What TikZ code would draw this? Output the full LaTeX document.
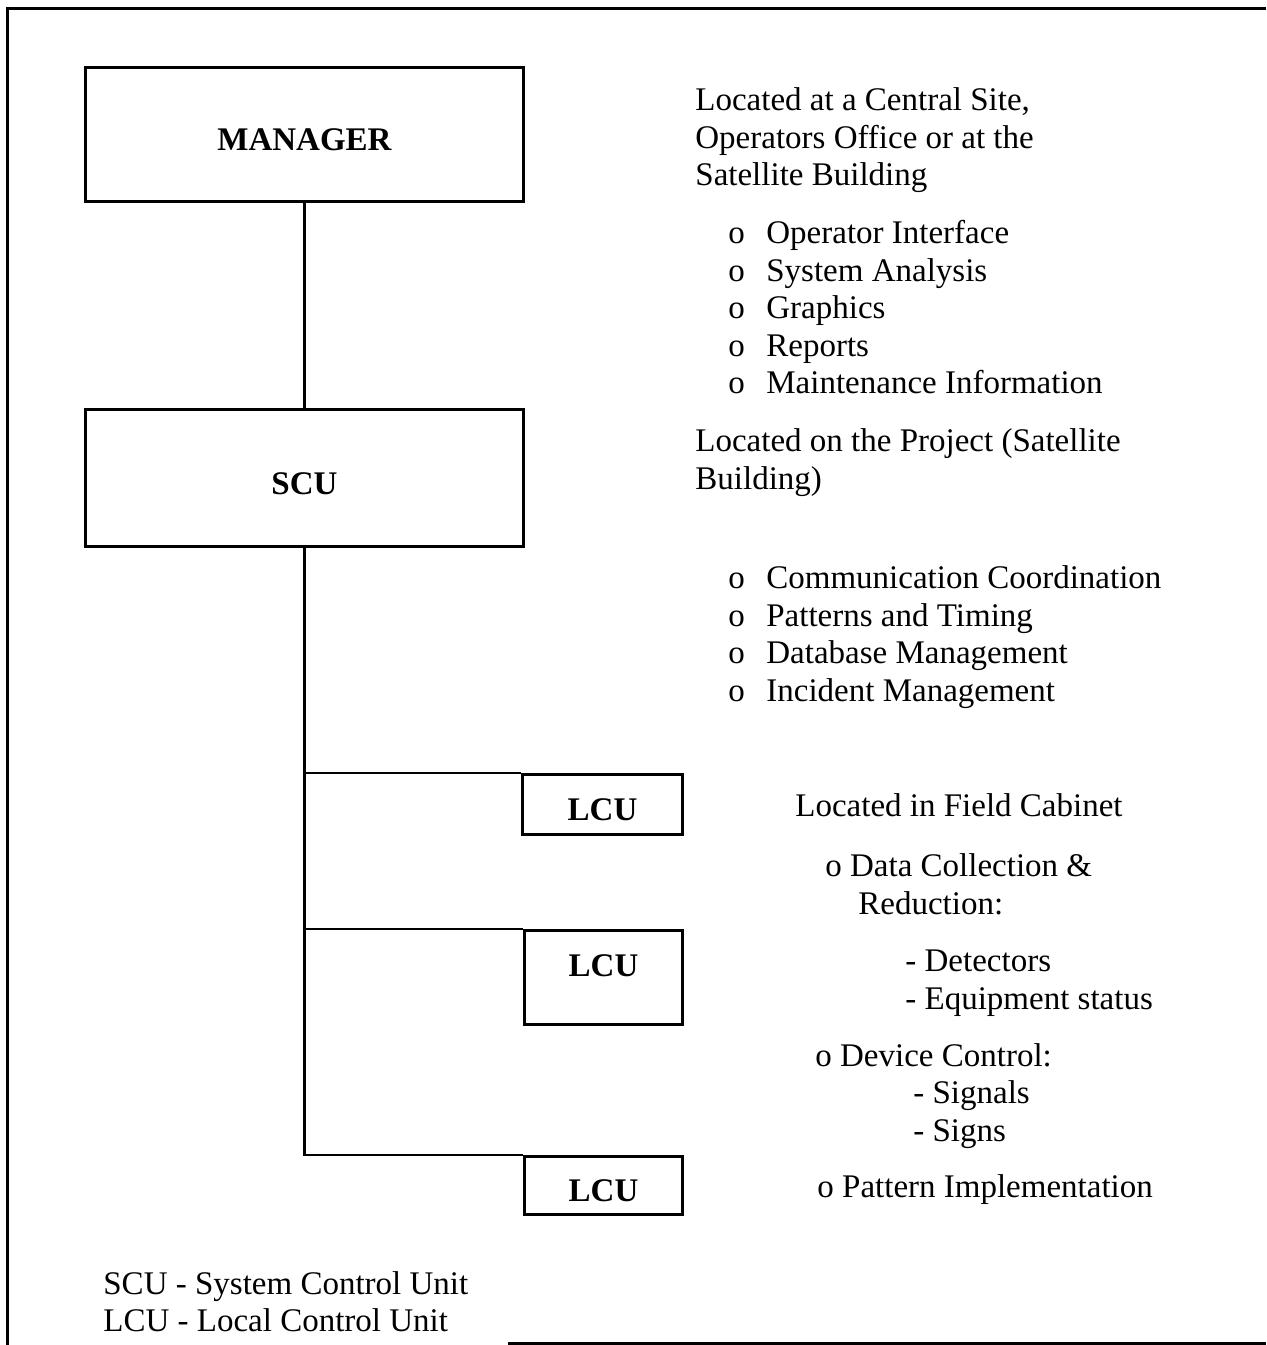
\documentclass[tikz,border=0pt]{standalone}
\usepackage{fontspec}
\setmainfont{Liberation Serif}
\usepackage{tikz}
\newcommand{\diagfont}{\fontsize{16.5pt}{19pt}\selectfont}
\newcommand{\bul}[1]{\makebox[19pt][l]{o}#1}
\tikzstyle{unitbox} = [draw, line width=1.5pt, rectangle, inner sep=0pt, anchor=north west, font=\diagfont\bfseries, text height=17pt, text depth=1pt]
\tikzstyle{notetext} = [anchor=base west, inner sep=0pt]
\tikzstyle{link} = [line width=1.3pt]

\begin{document}
\begin{tikzpicture}[x=0.5pt,y=-0.5pt,font=\diagfont]
		\useasboundingbox (0,0) rectangle (1266,1345);
		% frame
		\draw[line width=1.5pt] (1266,8) -- (7,8) -- (7,1345);
		\draw[line width=1.5pt] (508,1343) -- (1266,1343);
		% units
		\node[unitbox, minimum width=219pt, minimum height=67pt] (manager) at (84,66) {MANAGER};
		\node[unitbox, minimum width=219pt, minimum height=68.5pt] (scu) at (84,408) {SCU};
		\node[unitbox, minimum width=80pt, minimum height=30pt] (lcuA) at (521,773) {LCU};
		\node[unitbox, minimum width=79pt, text height=23pt, text depth=24pt] (lcuB) at (523,929) {LCU};
		\node[unitbox, minimum width=79pt, minimum height=29pt] (lcuC) at (523,1155) {LCU};
		% links
		\draw[link] (manager.south) -- (scu.north);
		\draw[link] (scu.south) |- (lcuC.north west);
		\draw[link] (scu.south |- lcuA.north) -- (lcuA.north west);
		\draw[link] (scu.south |- lcuB.north) -- (lcuB.north west);
		% manager notes
		\foreach \y/\t [count=\i] in {110/{Located at a Central Site,}, 148/{Operators Office or at the}, 185/{Satellite Building}}
			\node[notetext] (mgrtxt\i) at (695,\y) {\t};
		\foreach \y/\t [count=\i] in {243/Operator Interface, 281/System Analysis, 318/Graphics, 356/Reports, 393/Maintenance Information}
			\node[notetext] (mgritem\i) at (728,\y) {\bul{\t}};
		% scu notes
		\node[notetext] (scutxt1) at (695,451) {Located on the Project (Satellite};
		\node[notetext] (scutxt2) at (695,489) {Building)};
		\foreach \y/\t [count=\i] in {588/Communication Coordination, 626/Patterns and Timing, 663/Database Management, 701/Incident Management}
			\node[notetext] (scuitem\i) at (728,\y) {\bul{\t}};
		% lcu notes
		\node[notetext] (lcutxt) at (795,816) {Located in Field Cabinet};
		\node[notetext] (lcuitem1) at (825,876) {o Data Collection \&};
		\node[notetext] (lcuitem1b) at (858,914) {Reduction:};
		\node[notetext] (lcusub1) at (905,971) {- Detectors};
		\node[notetext] (lcusub2) at (905,1009) {- Equipment status};
		\node[notetext] (lcuitem2) at (815,1066) {o Device Control:};
		\node[notetext] (lcusub3) at (913,1103) {- Signals};
		\node[notetext] (lcusub4) at (913,1141) {- Signs};
		\node[notetext] (lcuitem3) at (817,1197) {o Pattern Implementation};
		% legend
		\node[notetext] (keyscu) at (103,1294) {SCU - System Control Unit};
		\node[notetext] (keylcu) at (103,1331) {LCU - Local Control Unit};
	\end{tikzpicture}
\end{document}
